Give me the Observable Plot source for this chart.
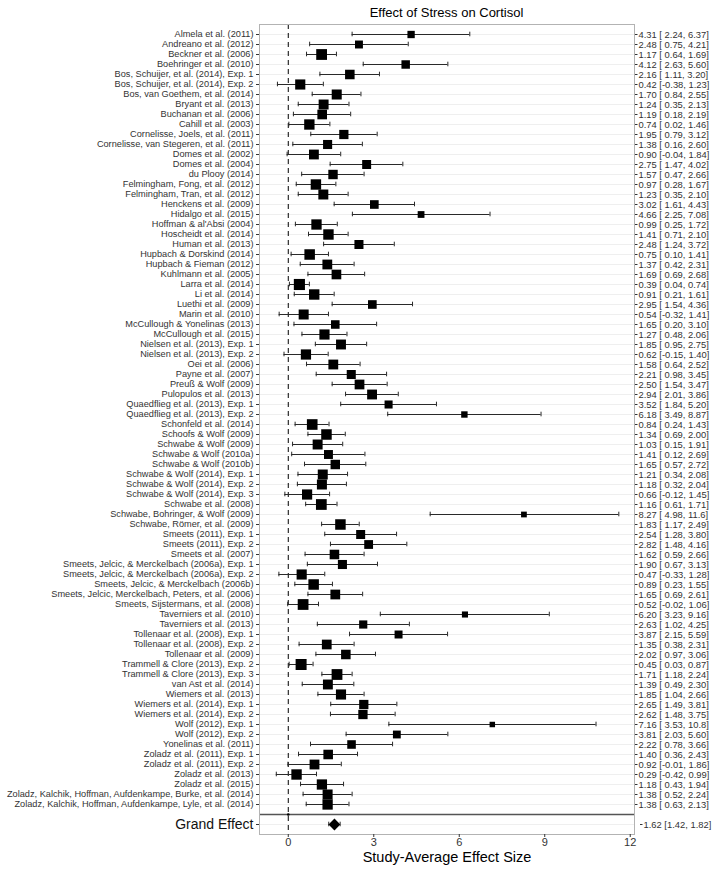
<!DOCTYPE html>
<html>
<head>
<meta charset="utf-8">
<script src="https://cdn.jsdelivr.net/npm/d3@7"></script>
<script src="https://cdn.jsdelivr.net/npm/@observablehq/plot@0.6"></script>
<style>
  body { margin: 0; background: #fff; font-family: "Liberation Sans", Arial, sans-serif; }
  #wrap { width: 714px; }
  #title { position: relative; width: 714px; height: 22px; }
  #title span { position: absolute; left: 259px; width: 375px; top: 5px; line-height: 16px; text-align: center; font-size: 13px; color: #000; }
</style>
</head>
<body>
<div id="wrap">
  <div id="title"><span>Effect of Stress on Cortisol</span></div>
  <div id="chart"></div>
</div>
<script>
const studies = [
  "Almela et al. (2011)",
  "Andreano et al. (2012)",
  "Beckner et al. (2006)",
  "Boehringer et al. (2010)",
  "Bos, Schuijer, et al. (2014), Exp. 1",
  "Bos, Schuijer, et al. (2014), Exp. 2",
  "Bos, van Goethem, et al. (2014)",
  "Bryant et al. (2013)",
  "Buchanan et al. (2006)",
  "Cahill et al. (2003)",
  "Cornelisse, Joels, et al. (2011)",
  "Cornelisse, van Stegeren, et al. (2011)",
  "Domes et al. (2002)",
  "Domes et al. (2004)",
  "du Plooy (2014)",
  "Felmingham, Fong, et al. (2012)",
  "Felmingham, Tran, et al. (2012)",
  "Henckens et al. (2009)",
  "Hidalgo et al. (2015)",
  "Hoffman & al'Absi (2004)",
  "Hoscheidt et al. (2014)",
  "Human et al. (2013)",
  "Hupbach & Dorskind (2014)",
  "Hupbach & Fieman (2012)",
  "Kuhlmann et al. (2005)",
  "Larra et al. (2014)",
  "Li et al. (2014)",
  "Luethi et al. (2009)",
  "Marin et al. (2010)",
  "McCullough & Yonelinas (2013)",
  "McCullough et al. (2015)",
  "Nielsen et al. (2013), Exp. 1",
  "Nielsen et al. (2013), Exp. 2",
  "Oei et al. (2006)",
  "Payne et al. (2007)",
  "Preuß & Wolf (2009)",
  "Pulopulos et al. (2013)",
  "Quaedflieg et al. (2013), Exp. 1",
  "Quaedflieg et al. (2013), Exp. 2",
  "Schonfeld et al. (2014)",
  "Schoofs & Wolf (2009)",
  "Schwabe & Wolf (2009)",
  "Schwabe & Wolf (2010a)",
  "Schwabe & Wolf (2010b)",
  "Schwabe & Wolf (2014), Exp. 1",
  "Schwabe & Wolf (2014), Exp. 2",
  "Schwabe & Wolf (2014), Exp. 3",
  "Schwabe et al. (2008)",
  "Schwabe, Bohringer, & Wolf (2009)",
  "Schwabe, Römer, et al. (2009)",
  "Smeets (2011), Exp. 1",
  "Smeets (2011), Exp. 2",
  "Smeets et al. (2007)",
  "Smeets, Jelcic, & Merckelbach (2006a), Exp. 1",
  "Smeets, Jelcic, & Merckelbach (2006a), Exp. 2",
  "Smeets, Jelcic, & Merckelbach (2006b)",
  "Smeets, Jelcic, Merckelbach, Peters, et al. (2006)",
  "Smeets, Sijstermans, et al. (2008)",
  "Taverniers et al. (2010)",
  "Taverniers et al. (2013)",
  "Tollenaar et al. (2008), Exp. 1",
  "Tollenaar et al. (2008), Exp. 2",
  "Tollenaar et al. (2009)",
  "Trammell & Clore (2013), Exp. 2",
  "Trammell & Clore (2013), Exp. 3",
  "van Ast et al. (2014)",
  "Wiemers et al. (2013)",
  "Wiemers et al. (2014), Exp. 1",
  "Wiemers et al. (2014), Exp. 2",
  "Wolf (2012), Exp. 1",
  "Wolf (2012), Exp. 2",
  "Yonelinas et al. (2011)",
  "Zoladz et al. (2011), Exp. 1",
  "Zoladz et al. (2011), Exp. 2",
  "Zoladz et al. (2013)",
  "Zoladz et al. (2015)",
  "Zoladz, Kalchik, Hoffman, Aufdenkampe, Burke, et al. (2014)",
  "Zoladz, Kalchik, Hoffman, Aufdenkampe, Lyle, et al. (2014)"
];
const estimates = [4.31,2.48,1.17,4.12,2.16,0.42,1.70,1.24,1.19,0.74,1.95,1.38,0.90,2.75,1.57,0.97,1.23,3.02,4.66,0.99,1.41,2.48,0.75,1.37,1.69,0.39,0.91,2.95,0.54,1.65,1.27,1.85,0.62,1.58,2.21,2.50,2.94,3.52,6.18,0.84,1.34,1.03,1.41,1.65,1.21,1.18,0.66,1.16,8.27,1.83,2.54,2.82,1.62,1.90,0.47,0.89,1.65,0.52,6.20,2.63,3.87,1.35,2.02,0.45,1.71,1.39,1.85,2.65,2.62,7.16,3.81,2.22,1.40,0.92,0.29,1.18,1.38,1.38];
const lowers = [2.24,0.75,0.64,2.63,1.11,-0.38,0.84,0.35,0.18,0.02,0.79,0.16,-0.04,1.47,0.47,0.28,0.35,1.61,2.25,0.25,0.71,1.24,0.10,0.42,0.69,0.04,0.21,1.54,-0.32,0.20,0.48,0.95,-0.15,0.64,0.98,1.54,2.01,1.84,3.49,0.24,0.69,0.15,0.12,0.57,0.34,0.32,-0.12,0.61,4.98,1.17,1.28,1.48,0.59,0.67,-0.33,0.23,0.69,-0.02,3.23,1.02,2.15,0.38,0.97,0.03,1.18,0.49,1.04,1.49,1.48,3.53,2.03,0.78,0.36,-0.01,-0.42,0.43,0.52,0.63];
const uppers = [6.37,4.21,1.69,5.60,3.20,1.23,2.55,2.13,2.19,1.46,3.12,2.60,1.84,4.02,2.66,1.67,2.10,4.43,7.08,1.72,2.10,3.72,1.41,2.31,2.68,0.74,1.61,4.36,1.41,3.10,2.06,2.75,1.40,2.52,3.45,3.47,3.86,5.20,8.87,1.43,2.00,1.91,2.69,2.72,2.08,2.04,1.45,1.71,11.6,2.49,3.80,4.16,2.66,3.13,1.28,1.55,2.61,1.06,9.16,4.25,5.59,2.31,3.06,0.87,2.24,2.30,2.66,3.81,3.75,10.8,5.60,3.66,2.43,1.86,0.99,1.94,2.24,2.13];
const grandName = "Grand Effect";
const grandEstimate = 1.62;
const grandLower = 1.42;
const grandUpper = 1.82;
const xTicks = [0, 3, 6, 9, 12];
const blankRow = " ";

const rows = studies.map((name, i) => ({name, est: estimates[i], lo: lowers[i], hi: uppers[i]}));
const grand = {name: grandName, est: grandEstimate, lo: grandLower, hi: grandUpper};
const allRows = [...rows, grand];
const domainY = [...studies, blankRow, grandName];

const fmt = v => (Math.abs(v) >= 10 ? v.toFixed(1) : v.toFixed(2));
const rightLabel = new Map(rows.map(d => [d.name, `${fmt(d.est)} [${fmt(d.lo).padStart(5)},${fmt(d.hi).padStart(5)}]`]));
const grandLabel = `${fmt(grand.est)} [${fmt(grand.lo)}, ${fmt(grand.hi)}]`;

// marker side grows with precision of the study
const side = d => { const se = (d.hi - d.lo) / 3.92; return 2.2 + 6.5 * Math.sqrt(1 / (se * se + 0.5)); };
const radius = d => side(d) / Math.sqrt(Math.PI);

const ink = "#2a2a2a";
const chart = Plot.plot({
  width: 714,
  height: 851,
  marginTop: 2,
  marginBottom: 39,
  marginLeft: 259,
  marginRight: 80,
  style: {fontFamily: "'Liberation Sans', Arial, sans-serif", background: "#fff", overflow: "visible"},
  x: {domain: [-1.01, 12.15]},
  y: {type: "band", domain: domainY, paddingInner: 0, paddingOuter: 0.21},
  r: {type: "identity"},
  marks: [
    Plot.ruleY([...studies, grandName], {stroke: "#ebebeb", strokeWidth: 0.8}),
    Plot.ruleX([0], {stroke: "#000", strokeWidth: 1, strokeDasharray: "5,4"}),
    Plot.ruleY([blankRow], {stroke: "#555", strokeWidth: 1.6}),
    Plot.ruleY(allRows, {y: "name", x1: "lo", x2: "hi", stroke: ink, strokeWidth: 1}),
    Plot.tickX(allRows, {x: "lo", y: "name", insetTop: 2.7, insetBottom: 2.7, stroke: ink, strokeWidth: 1}),
    Plot.tickX(allRows, {x: "hi", y: "name", insetTop: 2.7, insetBottom: 2.7, stroke: ink, strokeWidth: 1}),
    Plot.dot(rows, {x: "est", y: "name", r: radius, symbol: "square", fill: "#000", stroke: "none"}),
    Plot.dot([grand], {x: "est", y: "name", r: 5.3, symbol: "diamond2", fill: "#000", stroke: "none"}),
    Plot.dot([{x: 0, y: blankRow}], {x: "x", y: "y", r: 1.3, fill: "#000"}),
    Plot.frame({stroke: "#b3b3b3", strokeWidth: 1}),
    Plot.axisY({anchor: "left", ticks: studies, tickSize: 3, tickPadding: 3, fontSize: 9.2, fill: "#333", stroke: "#333", label: null}),
    Plot.axisY({anchor: "left", ticks: [grandName], tickSize: 3, tickPadding: 3, fontSize: 14, fill: "#111", stroke: "#333", label: null}),
    Plot.axisY({anchor: "right", ticks: studies, tickFormat: d => rightLabel.get(d), tickSize: 2.5, tickPadding: 1.5, fontSize: 9.4, fill: "#333", stroke: "#333", label: null}),
    Plot.axisY({anchor: "right", ticks: [grandName], tickFormat: () => grandLabel, tickSize: 2.5, tickPadding: 1.5, dx: 5, fontSize: 9.4, fill: "#333", stroke: "#333", label: null}),
    Plot.axisX({ticks: xTicks, tickSize: 3, tickPadding: 1, fontSize: 11, fill: "#333", stroke: "#333", label: null}),
    Plot.text(["Study-Average Effect Size"], {frameAnchor: "bottom", dy: 22.7, lineAnchor: "middle", fontSize: 14.5, fill: "#000"})
  ]
});
document.getElementById("chart").appendChild(chart);
</script>
</body>
</html>
